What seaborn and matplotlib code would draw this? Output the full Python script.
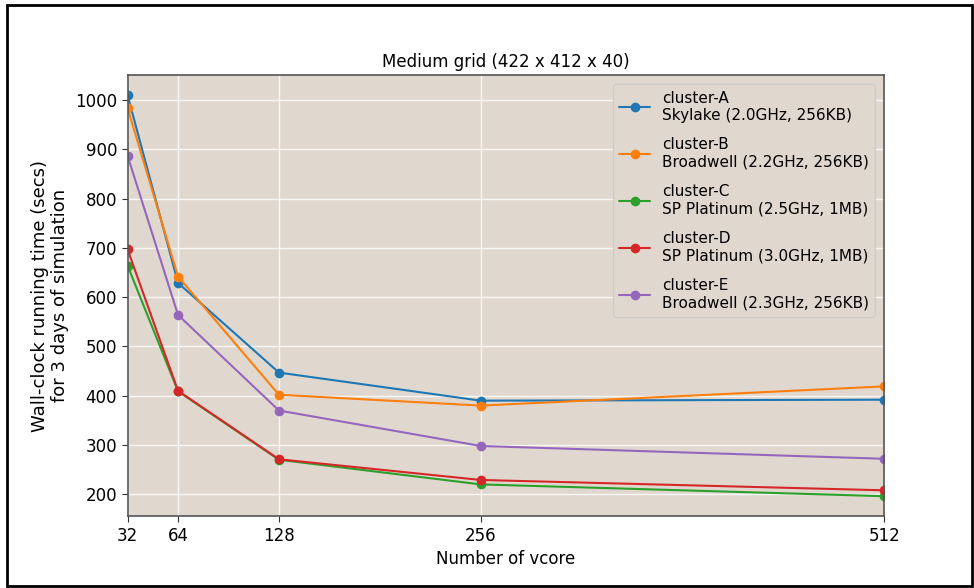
import matplotlib
matplotlib.use("Agg")
import matplotlib.pyplot as plt
import seaborn as sns
import pandas as pd
from matplotlib.patches import Rectangle

vcores = [32, 64, 128, 256, 512]
cluster_a = [1010, 629, 447, 390, 392]
cluster_b = [984, 642, 402, 380, 419]
cluster_c = [664, 409, 270, 220, 196]
cluster_d = [697, 410, 271, 229, 208]
cluster_e = [887, 564, 370, 298, 272]
labels = [
    "cluster-A\nSkylake (2.0GHz, 256KB)",
    "cluster-B\nBroadwell (2.2GHz, 256KB)",
    "cluster-C\nSP Platinum (2.5GHz, 1MB)",
    "cluster-D\nSP Platinum (3.0GHz, 1MB)",
    "cluster-E\nBroadwell (2.3GHz, 256KB)",
]
series = [cluster_a, cluster_b, cluster_c, cluster_d, cluster_e]
colors = ["#1f77b4", "#ff7f0e", "#2ca02c", "#d62728", "#9467bd"]

rows = []
for lab, vals in zip(labels, series):
    for x, v in zip(vcores, vals):
        rows.append({"vcore": x, "time": v, "cluster": lab})
df = pd.DataFrame(rows)

sns.set_style("whitegrid")
plt.rcParams["font.family"] = ["DejaVu Sans"]
plt.rcParams["text.color"] = "black"
plt.rcParams["axes.labelcolor"] = "black"
plt.rcParams["xtick.color"] = "black"
plt.rcParams["ytick.color"] = "black"

fig = plt.figure(figsize=(9.74, 5.88), dpi=100)
ax = fig.add_axes([0.131, 0.122, 0.777, 0.750])
ax.set_facecolor("#e0d8cf")

sns.lineplot(data=df, x="vcore", y="time", hue="cluster", palette=colors,
             marker="o", markersize=7, markeredgewidth=0, linewidth=1.5, ax=ax)

ax.set_xlim(32, 512)
ax.set_xticks(vcores)
ax.set_xticklabels([str(v) for v in vcores])
ax.set_yticks([200, 300, 400, 500, 600, 700, 800, 900, 1000])
ax.grid(True, color="white", linewidth=1.0, alpha=0.8)
ax.tick_params(axis="both", labelsize=12, length=4, color="#333333", left=True, bottom=True)
for s in ax.spines.values():
    s.set_color("#555555")
    s.set_linewidth(1.2)

ax.set_title("Medium grid (422 x 412 x 40)", fontsize=12)
ax.set_xlabel("Number of vcore", fontsize=12)
ax.set_ylabel("Wall-clock running time (secs)\nfor 3 days of simulation", fontsize=13)

leg = ax.legend(loc="upper right", fontsize=11, title=None, frameon=True,
                facecolor="#e0d8cf", edgecolor="#cccccc", framealpha=1.0,
                labelspacing=0.95, borderaxespad=0.6)

fig.patches.append(Rectangle((0.007, 0.003), 0.991, 0.988, transform=fig.transFigure,
                             fill=False, edgecolor="black", linewidth=2))

fig.savefig("out.png", dpi=100)
